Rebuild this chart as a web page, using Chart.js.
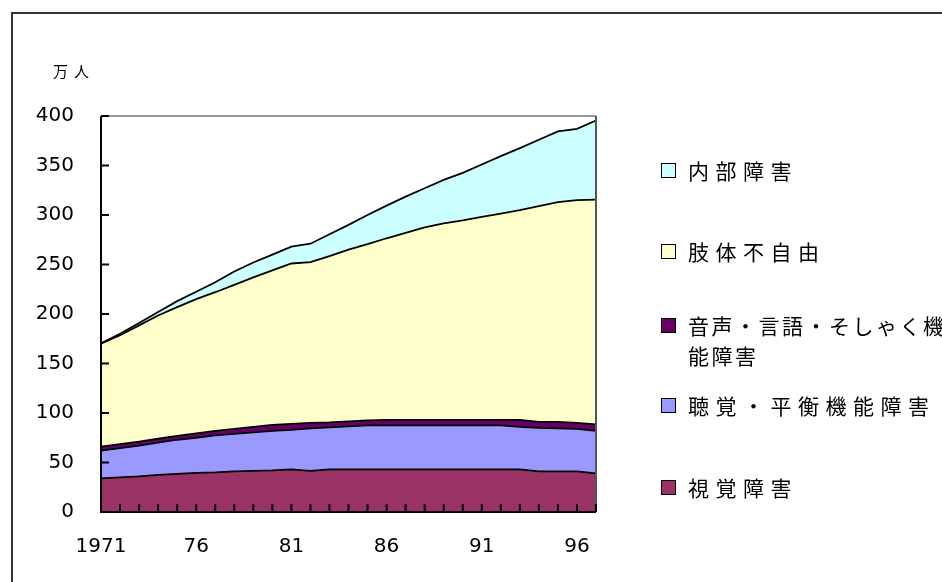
<!DOCTYPE html>
<html>
<head>
<meta charset="utf-8">
<script src="https://cdn.jsdelivr.net/npm/chart.js@4.4.1/dist/chart.umd.min.js"></script>
<style>
  html, body { margin: 0; padding: 0; background: #fff; overflow: hidden; }
  #wrap { position: relative; width: 942px; height: 582px; overflow: hidden; }
  #frame { position: absolute; left: 11px; top: 12px; width: 1000px; height: 1000px;
           border: 2px solid #333; box-sizing: border-box; }
  #chart { position: absolute; left: 0; top: 0; }
  #unit { position: absolute; left: 53px; top: 61px; font: 15px "Noto Sans CJK JP"; letter-spacing: 6px;
          line-height: 20px; color: #000; }
  .item { position: absolute; left: 661px; }
  .box { position: absolute; left: 0; width: 13px; height: 13px; border: 1px solid #000; }
  .txt { position: absolute; left: 27px; width: 305px; font: 21px "Noto Sans CJK JP";
         letter-spacing: 6.5px; line-height: 30px; color: #000; white-space: normal; }
  .txt.long { width: 262px; letter-spacing: 2.5px; }
</style>
</head>
<body>
<div id="wrap">
  <div id="frame"></div>
  <canvas id="chart" width="942" height="582"></canvas>
  <div id="unit">万人</div>
  <div id="legend"></div>
</div>
<script>
// 1971 .. 1997
const years = [1971, 1972, 1973, 1974, 1975, 1976, 1977, 1978, 1979, 1980,
               1981, 1982, 1983, 1984, 1985, 1986, 1987, 1988, 1989, 1990,
               1991, 1992, 1993, 1994, 1995, 1996, 1997];
const tickLabels = ['1971', '76', '81', '86', '91', '96'];

// values in 万人, bottom of the stack first
const visual   = [34, 35, 36, 37.5, 38.5, 39.5, 40, 41, 41.5, 42, 43, 41.5, 43, 43, 43, 43, 43, 43, 43, 43, 43, 43, 43, 41, 41, 41, 39];
const hearing  = [28, 29.5, 31, 32.5, 34.5, 35.5, 37.5, 38, 39, 40, 40, 43, 42.5, 43.5, 44.5, 44.5, 44.5, 44.5, 44.5, 44.5, 44.5, 44.5, 43, 44, 43.5, 43, 43];
const speech   = [4, 4, 4, 4, 4, 4.5, 4.5, 5, 5.5, 6, 6, 5.5, 5, 5, 5, 5.5, 5.5, 5.5, 5.5, 5.5, 5.5, 5.5, 7, 6, 6.5, 6, 6.5];
const limb     = [104, 110, 117.5, 124.5, 130, 135.5, 140, 145.5, 151, 156, 162, 162.5, 168, 173.5, 178, 183.5, 189, 194.5, 198.5, 201.5, 205, 208.5, 212, 218, 222, 225, 227];
const internal = [0.5, 1.5, 2.5, 3.5, 6, 7.5, 10, 13.5, 15, 16, 17, 18.5, 22, 25, 29.5, 33, 36.5, 39.5, 44, 48, 53, 58, 62.5, 67, 71.5, 72, 80];

const seriesNames  = ['視覚障害', '聴覚・平衡機能障害', '音声・言語・そしゃく機能障害', '肢体不自由', '内部障害'];
const seriesValues = [visual, hearing, speech, limb, internal];
const seriesColors = ['#993366', '#9999ff', '#660066', '#ffffcc', '#ccffff'];

const axisDecor = {
  id: 'axisDecor',
  afterDatasetsDraw(chart) {
    const { ctx, chartArea: a, scales: { x, y } } = chart;
    ctx.save();
    ctx.lineWidth = 2;
    ctx.strokeStyle = '#999';
    ctx.beginPath(); ctx.moveTo(a.left, a.top); ctx.lineTo(a.right, a.top); ctx.stroke();
    ctx.strokeStyle = '#555';
    ctx.beginPath(); ctx.moveTo(a.right, a.top); ctx.lineTo(a.right, a.bottom); ctx.stroke();
    ctx.strokeStyle = '#000';
    ctx.beginPath();
    x.ticks.forEach((t, i) => {
      const px = x.getPixelForTick(i);
      ctx.moveTo(px, a.bottom); ctx.lineTo(px, a.bottom - 8);
    });
    y.ticks.forEach((t, i) => {
      const py = y.getPixelForTick(i);
      ctx.moveTo(a.left, py); ctx.lineTo(a.left + 8, py);
    });
    ctx.moveTo(a.left, a.top); ctx.lineTo(a.left, a.bottom); ctx.lineTo(a.right, a.bottom);
    ctx.stroke();
    ctx.restore();
  }
};

const chart = new Chart(document.getElementById('chart'), {
  type: 'line',
  data: {
    labels: years,
    datasets: seriesValues.map((vals, i) => ({
      label: seriesNames[i],
      data: vals,
      backgroundColor: seriesColors[i],
      borderColor: '#000',
      borderWidth: 1.8,
      pointRadius: 0,
      tension: 0,
      fill: i === 0 ? 'origin' : '-1'
    }))
  },
  options: {
    responsive: false,
    animation: false,
    layout: { padding: { left: 21, top: 116, right: 346, bottom: 20 } },
    plugins: { legend: { display: false }, tooltip: { enabled: false } },
    scales: {
      x: {
        offset: false,
        grid: { display: false, drawTicks: false },
        border: { display: false },
        ticks: {
          autoSkip: false, maxRotation: 0, padding: 23, color: '#000',
          font: { family: 'DejaVu Sans', size: 20 },
          callback: (v, i) => (i % 5 === 0 ? tickLabels[i / 5] : '')
        },
        afterFit: s => { s.height = 50; }
      },
      y: {
        stacked: true,
        min: 0, max: 400,
        grid: { display: false, drawTicks: false },
        border: { display: false },
        ticks: {
          stepSize: 50, padding: 27, color: '#000',
          font: { family: 'DejaVu Sans', size: 20 }
        },
        afterFit: s => { s.width = 80; }
      }
    }
  },
  plugins: [axisDecor]
});

// legend, top entry = top of the stack
const legendCenters = [170, 251, 325, 405, 487];
const legend = document.getElementById('legend');
seriesNames.slice().reverse().forEach((name, k) => {
  const i = seriesNames.length - 1 - k;
  const c = legendCenters[k];
  const item = document.createElement('div');
  item.className = 'item';
  item.style.top = (c - 15) + 'px';
  const box = document.createElement('div');
  box.className = 'box';
  box.style.top = '8px';
  box.style.background = seriesColors[i];
  const txt = document.createElement('div');
  txt.className = name.length > 10 ? 'txt long' : 'txt';
  txt.textContent = name;
  item.appendChild(box);
  item.appendChild(txt);
  legend.appendChild(item);
});
</script>
</body>
</html>
